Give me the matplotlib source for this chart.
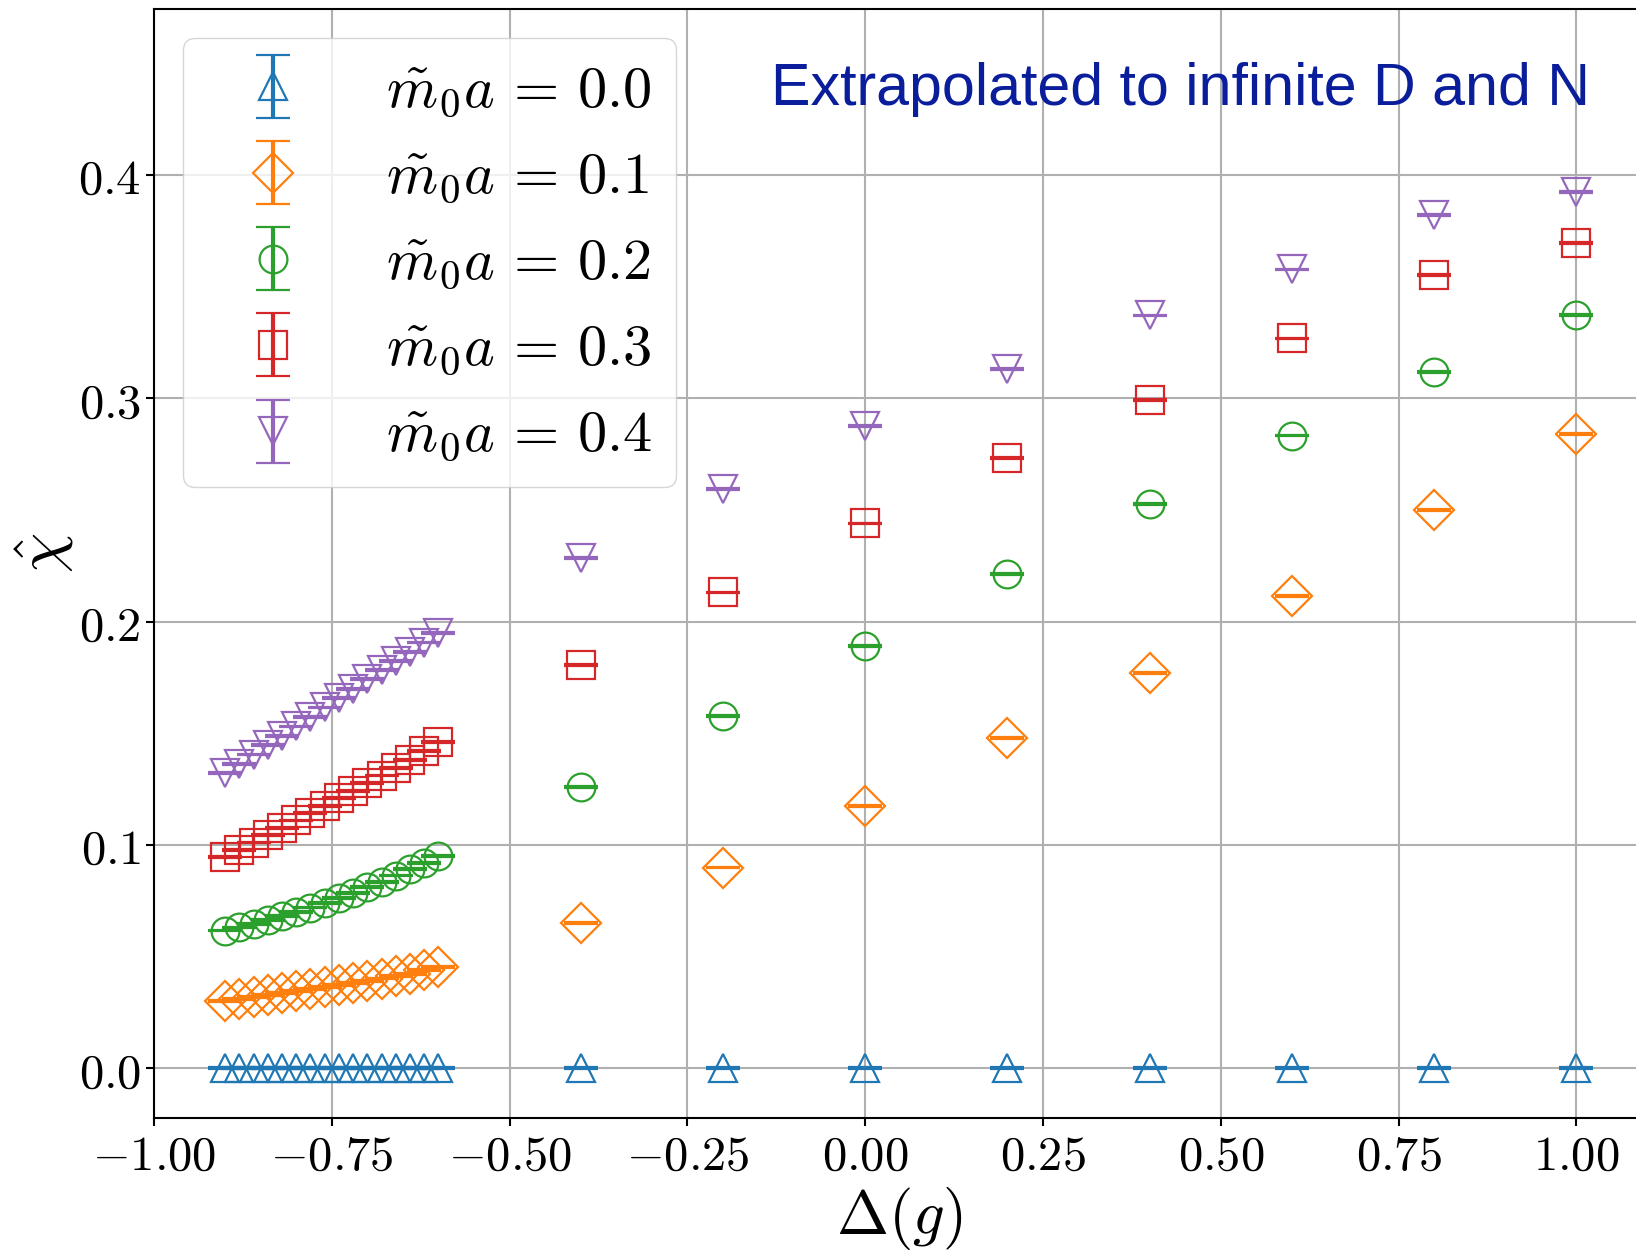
import numpy as np
import matplotlib
matplotlib.use("Agg")
import matplotlib.pyplot as plt
from matplotlib.ticker import FuncFormatter
from matplotlib.container import ErrorbarContainer
from matplotlib.legend_handler import HandlerErrorbar

plt.rcParams['mathtext.fontset'] = 'cm'
plt.rcParams['font.family'] = 'DejaVu Sans'

# donnees
x_dense = [-0.90, -0.88, -0.86, -0.84, -0.82, -0.80, -0.78, -0.76,
           -0.74, -0.72, -0.70, -0.68, -0.66, -0.64, -0.62, -0.60]
x_sparse = [-0.4, -0.2, 0.0, 0.2, 0.4, 0.6, 0.8, 1.0]

chi_00_dense = [0.0] * 16
chi_00_sparse = [0.0] * 8

chi_01_dense = [0.0303, 0.0311, 0.0319, 0.0328, 0.0336, 0.0345, 0.0354, 0.0363,
                0.0372, 0.0382, 0.0392, 0.0402, 0.0413, 0.0424, 0.0439, 0.0455]
chi_01_sparse = [0.0651, 0.0899, 0.1176, 0.1480, 0.1770, 0.2117, 0.2502, 0.2842]

chi_02_dense = [0.0617, 0.0631, 0.0647, 0.0664, 0.0681, 0.0700, 0.0720, 0.0741,
                0.0763, 0.0786, 0.0811, 0.0836, 0.0863, 0.0891, 0.0920, 0.0950]
chi_02_sparse = [0.1260, 0.1578, 0.1892, 0.2215, 0.2529, 0.2834, 0.3117, 0.3375]

chi_03_dense = [0.0946, 0.0978, 0.1011, 0.1044, 0.1077, 0.1110, 0.1143, 0.1176,
                0.1209, 0.1243, 0.1277, 0.1311, 0.1345, 0.1380, 0.1420, 0.1462]
chi_03_sparse = [0.1808, 0.2131, 0.2440, 0.2735, 0.2993, 0.3269, 0.3553, 0.3698]

chi_04_dense = [0.1321, 0.1362, 0.1405, 0.1447, 0.1489, 0.1531, 0.1574, 0.1616,
                0.1658, 0.1700, 0.1742, 0.1783, 0.1824, 0.1865, 0.1907, 0.1948]
chi_04_sparse = [0.2286, 0.2595, 0.2876, 0.3133, 0.3372, 0.3578, 0.3822, 0.3924]

err = 0.0004  # barres d'erreur tres petites

masses = ['0.0', '0.1', '0.2', '0.3', '0.4']
colors = ['#1f77b4', '#ff7f0e', '#2ca02c', '#d62728', '#9467bd']
markers = ['^', 'D', 'o', 's', 'v']
series = [chi_00_dense + chi_00_sparse, chi_01_dense + chi_01_sparse,
          chi_02_dense + chi_02_sparse, chi_03_dense + chi_03_sparse,
          chi_04_dense + chi_04_sparse]
x = np.array(x_dense + x_sparse)

fig = plt.figure(figsize=(16.36, 12.5), dpi=100)
ax = fig.add_axes([154/1636, 1 - 1118.3/1250, 1490/1636, 1109/1250])

for m, c, mk, y in zip(masses, colors, markers, series):
    y = np.array(y)
    ax.errorbar(x, y, yerr=np.full(len(y), err), fmt=mk, color=c,
                mfc='none', mec=c, ms=20, mew=1.6,
                capsize=12.5, capthick=3, elinewidth=3,
                label=r'$\tilde{m}_0 a\,=\,%s$' % m)

ax.set_xlim(-1.0, 1.095)
ax.set_ylim(-0.0224, 0.4743)
ax.set_xticks([-1.0, -0.75, -0.5, -0.25, 0.0, 0.25, 0.5, 0.75, 1.0])
ax.set_yticks([0.0, 0.1, 0.2, 0.3, 0.4])
ax.xaxis.set_major_formatter(FuncFormatter(lambda v, p: r'$%.2f$' % v))
ax.yaxis.set_major_formatter(FuncFormatter(lambda v, p: r'$%.1f$' % v))
ax.tick_params(labelsize=35, length=6, width=1.5)
for s in ax.spines.values():
    s.set_linewidth(1.5)

ax.set_axisbelow(True)
ax.grid(True, color='#b0b0b0', lw=1.5)

ax.set_xlabel(r'$\Delta(g)$', fontsize=45, labelpad=4)
ax.set_ylabel(r'$\hat{\chi}$', fontsize=46, va='center')
ax.yaxis.set_label_coords(-0.073, 0.51)

ax.legend(loc='upper left', fontsize=42, labelspacing=0.5, borderaxespad=0.5,
          handlelength=2.28, handletextpad=0.8,
          handler_map={ErrorbarContainer: HandlerErrorbar(xerr_size=0.54)})

fig.text(771/1636, 1 - 105/1250, 'Extrapolated to infinite D and N',
         fontsize=42.6, color='#0a1e9c', family='Liberation Sans', va='baseline')

plt.savefig('out.png', dpi=100)
